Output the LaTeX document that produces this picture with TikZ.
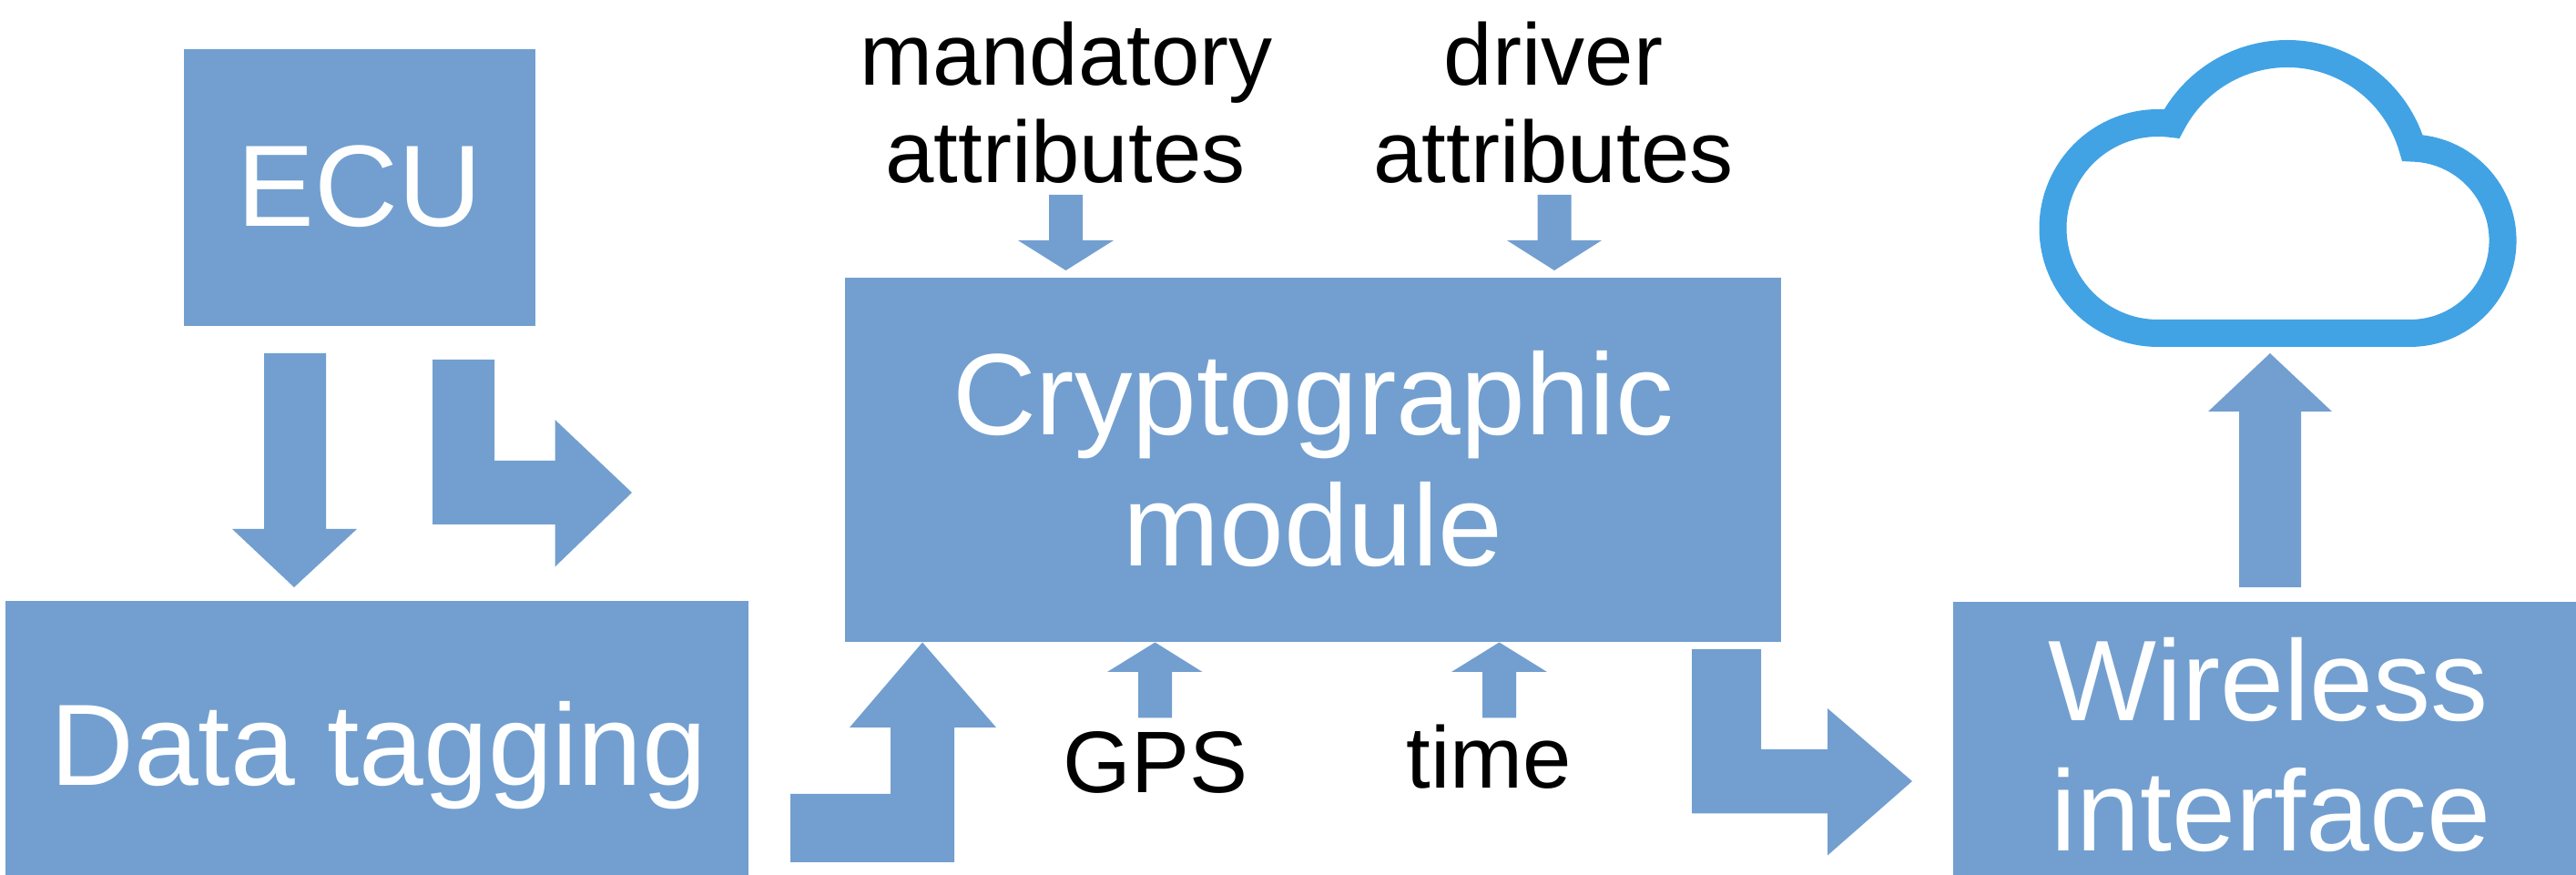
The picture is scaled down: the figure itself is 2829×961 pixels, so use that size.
\documentclass[tikz,border=0pt]{standalone}
\usepackage{fontspec}
\setmainfont{Liberation Sans}
\definecolor{boxblue}{HTML}{729FCF}
\definecolor{cloudblue}{HTML}{41A3E4}
\tikzset{
  blockarrow/.style={fill=boxblue,draw=none},
  whitelabel/.style={text=white,align=center,inner sep=0pt,font=\fontsize{63.6}{71.5}\selectfont},
  wirelesslabel/.style={text=white,align=center,inner sep=0pt,font=\fontsize{63}{71.5}\selectfont},
  blacklabel/.style={text=black,align=center,inner sep=0pt,font=\fontsize{48}{53.5}\selectfont}
}
\begin{document}
\begin{tikzpicture}[x=0.5pt,y=-0.5pt]
\useasboundingbox (0,0) rectangle (2829,961);
% boxes
\fill[boxblue] (202,54) rectangle (588,358);
\fill[boxblue] (6,660) rectangle (822,961);
\fill[boxblue] (928,305) rectangle (1956,705);
\fill[boxblue] (2145,661) rectangle (2829,961);
% labels
\node[whitelabel,anchor=base] (ecu) at (395,249) {ECU};
\node[whitelabel,anchor=base] (tag) at (416,863) {Data tagging};
\node[whitelabel,anchor=base] (cry1) at (1442,478) {Cryptographic};
\node[whitelabel,anchor=base] (cry2) at (1442,622) {module};
\node[wirelesslabel,anchor=base] (wir1) at (2491,792) {Wireless};
\node[wirelesslabel,anchor=base] (wir2) at (2494,935) {interface};
\node[blacklabel,anchor=base] (man1) at (1171,94) {mandatory};
\node[blacklabel,anchor=base] (man2) at (1170,201) {attributes};
\node[blacklabel,anchor=base] (drv1) at (1706,94) {driver};
\node[blacklabel,anchor=base] (drv2) at (1706,201) {attributes};
\node[blacklabel,anchor=base] (gps) at (1269,871) {GPS};
\node[blacklabel,anchor=base] (tim) at (1635.5,865.5) {time};
% block arrows
\fill[blockarrow] (290,388) -- (358,388) -- (358,581) -- (392,581) -- (323,645) -- (255,581) -- (290,581) -- cycle;
\fill[blockarrow] (475,395) -- (543,395) -- (543,506) -- (609.5,506) -- (609.5,461) -- (694,541) -- (609.5,622.5) -- (609.5,576) -- (475,576) -- cycle;
\fill[blockarrow] (868,947) -- (868,872) -- (978,872) -- (978,799) -- (933,799) -- (1013,705.5) -- (1094,799) -- (1048,799) -- (1048,947) -- cycle;
\fill[blockarrow] (1858,713) -- (1934,713) -- (1934,823) -- (2007,823) -- (2007,778) -- (2100,858) -- (2007,939.5) -- (2007,893.5) -- (1858,893.5) -- cycle;
\fill[blockarrow] (2459,645) -- (2459,452) -- (2425,452) -- (2493,388) -- (2561,452) -- (2527,452) -- (2527,645) -- cycle;
\fill[blockarrow] (1152,214) -- (1189,214) -- (1189,264) -- (1223,264) -- (1170.5,297) -- (1118,264) -- (1152,264) -- cycle;
\fill[blockarrow] (1688.5,214) -- (1725.5,214) -- (1725.5,264) -- (1759,264) -- (1707,297) -- (1655,264) -- (1688.5,264) -- cycle;
\fill[blockarrow] (1250,788.5) -- (1250,738) -- (1216,738) -- (1268.5,705.5) -- (1320.5,738) -- (1287,738) -- (1287,788.5) -- cycle;
\fill[blockarrow] (1628,788.5) -- (1628,738) -- (1594,738) -- (1646.5,705.5) -- (1699,738) -- (1665,738) -- (1665,788.5) -- cycle;
% cloud
\draw[cloudblue,line width=15pt,miter limit=10]
  (2370,366) arc[start angle=90,end angle=277.5,radius=115.5]
  arc[start angle=207.5,end angle=344,radius=143]
  arc[start angle=271.4,end angle=450,radius=101.7] -- cycle;
\end{tikzpicture}
\end{document}
